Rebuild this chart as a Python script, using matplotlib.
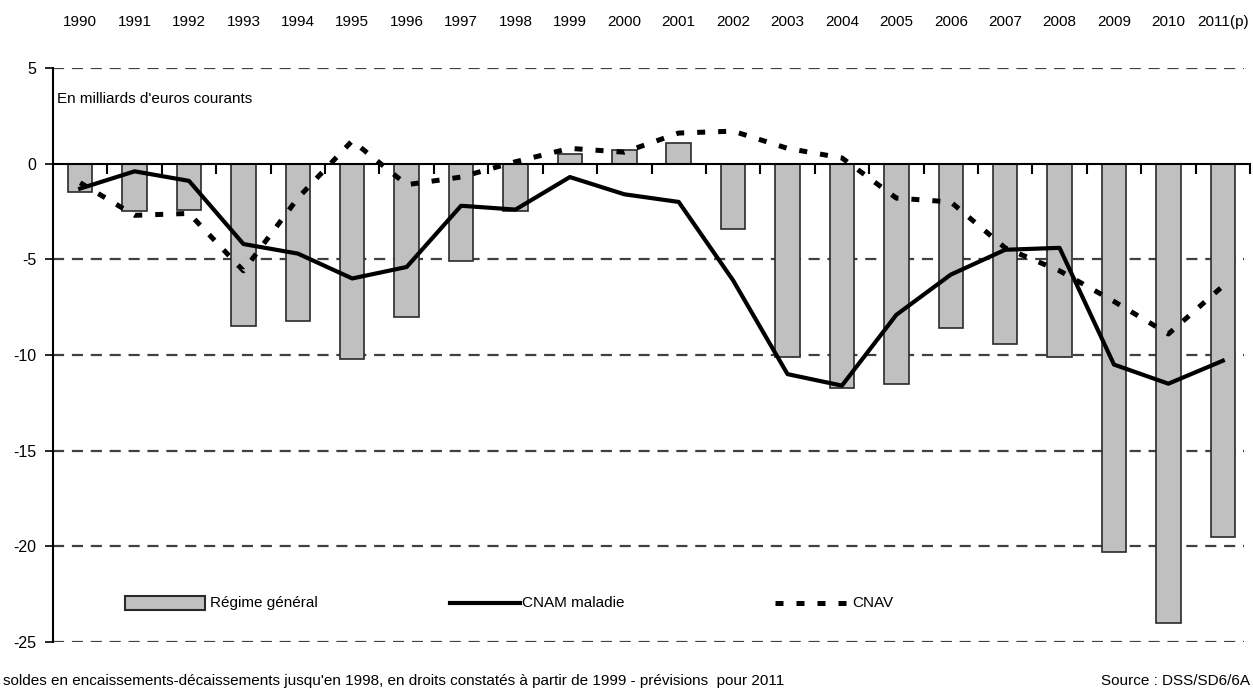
import numpy as np
import matplotlib.pyplot as plt
from matplotlib.lines import Line2D
from matplotlib.patches import Rectangle

plt.rcParams['font.family'] = ['Liberation Sans Narrow', 'Liberation Sans', 'DejaVu Sans']
plt.rcParams['axes.unicode_minus'] = False

years = ['1990', '1991', '1992', '1993', '1994', '1995', '1996', '1997', '1998', '1999', '2000',
         '2001', '2002', '2003', '2004', '2005', '2006', '2007', '2008', '2009', '2010', '2011(p)']
regime_general = [-1.5, -2.5, -2.4, -8.5, -8.2, -10.2, -8.0, -5.1, -2.5, 0.5, 0.7,
                  1.1, -3.4, -10.1, -11.7, -11.5, -8.6, -9.4, -10.1, -20.3, -24.0, -19.5]
cnam_maladie = [-1.3, -0.4, -0.9, -4.2, -4.7, -6.0, -5.4, -2.2, -2.4, -0.7, -1.6,
                -2.0, -6.1, -11.0, -11.6, -7.9, -5.8, -4.5, -4.4, -10.5, -11.5, -10.3]
cnav = [-1.0, -2.7, -2.6, -5.6, -1.8, 1.2, -1.1, -0.7, 0.1, 0.8, 0.6,
        1.6, 1.7, 0.8, 0.3, -1.8, -2.0, -4.4, -5.6, -7.2, -8.9, -6.4]
yticks = [5, 0, -5, -10, -15, -20, -25]

x = np.arange(len(years))

fig = plt.figure(figsize=(12.53, 6.89), dpi=100)
ax = fig.add_axes([53 / 1253, 47 / 689, 1197 / 1253, 574 / 689])

# dashed grid, 0 is the solid category axis
for v in yticks:
    if v != 0:
        ax.axhline(v, color='#404040', lw=1.6, dashes=(5, 3.5), xmax=0.995, zorder=0)

ax.bar(x, regime_general, width=0.45, color='#c0c0c0', edgecolor='#2a2a2a', lw=1.2, zorder=2)
ax.plot(x, cnam_maladie, color='black', lw=3.0, zorder=4, solid_joinstyle='round')
ax.plot(x, cnav, color='black', lw=3.6, dashes=(1.6, 2.6), zorder=3)

ax.set_xlim(-0.5, len(years) - 0.5)
ax.set_ylim(-25, 5)
ax.set_yticks(yticks)
ax.tick_params(axis='y', length=6, width=1.2, labelsize=11.5, pad=6)

ax.spines['bottom'].set_position(('data', 0))
ax.spines['bottom'].set_linewidth(1.5)
ax.spines['left'].set_linewidth(1.5)
ax.spines['top'].set_visible(False)
ax.spines['right'].set_visible(False)
ax.set_xticks(np.arange(len(years)) + 0.5)
ax.set_xticklabels([])
ax.tick_params(axis='x', length=7, width=1.5, direction='out')

sec = ax.secondary_xaxis('top')
sec.set_xticks(x, labels=years)
sec.tick_params(length=0, pad=28, labelsize=11)
sec.spines['top'].set_visible(False)

ax.text(-0.42, 3.4, "En milliards d'euros courants", fontsize=11, va='center', ha='left')

# legend drawn by hand
ax.add_patch(Rectangle((72 / 1197, 0.056), 80 / 1197, 0.024, transform=ax.transAxes,
                       facecolor='#c0c0c0', edgecolor='#2a2a2a', lw=1.5, clip_on=False))
ax.text(157 / 1197, 0.068, 'Régime général', transform=ax.transAxes, fontsize=11, va='center')
ax.add_line(Line2D([397 / 1197, 467 / 1197], [0.068, 0.068], transform=ax.transAxes,
                   color='black', lw=3.0))
ax.text(469 / 1197, 0.068, 'CNAM maladie', transform=ax.transAxes, fontsize=11, va='center')
ax.add_line(Line2D([722 / 1197, 797 / 1197], [0.068, 0.068], transform=ax.transAxes,
                   color='black', lw=3.6, dashes=(1.6, 2.6)))
ax.text(799 / 1197, 0.068, 'CNAV', transform=ax.transAxes, fontsize=11, va='center')

fig.text(3 / 1253, 1 / 689, "soldes en encaissements-décaissements jusqu'en 1998, en droits constatés "
         "à partir de 1999 - prévisions  pour 2011", fontsize=11, va='bottom', ha='left')
fig.text(1250 / 1253, 1 / 689, 'Source : DSS/SD6/6A', fontsize=11, va='bottom', ha='right')

fig.savefig('out.png', dpi=100)
